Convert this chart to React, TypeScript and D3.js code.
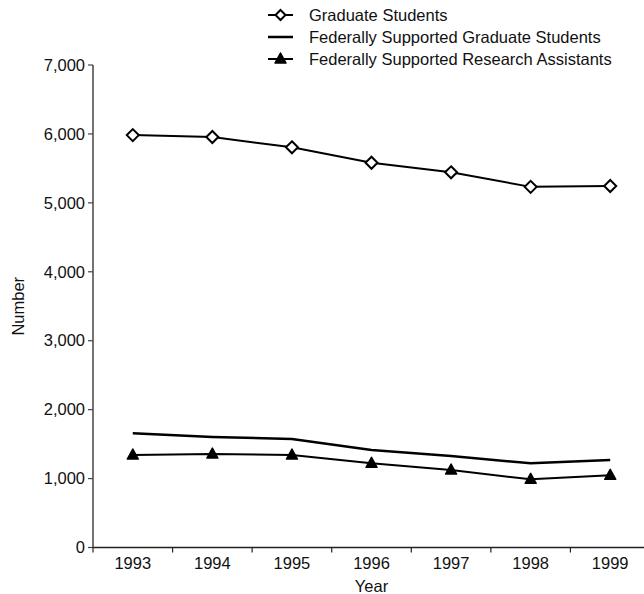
import React from "react";
import * as d3 from "d3";

const years = ["1993", "1994", "1995", "1996", "1997", "1998", "1999"];
const graduateStudents = [5983, 5955, 5806, 5582, 5443, 5232, 5245];
const fedGradStudents = [1657, 1603, 1574, 1414, 1327, 1221, 1269];
const fedResearchAssistants = [1342, 1356, 1342, 1221, 1124, 989, 1047];
const yTicks = [0, 1000, 2000, 3000, 4000, 5000, 6000, 7000];
const legendLabels = [
  "Graduate Students",
  "Federally Supported Graduate Students",
  "Federally Supported Research Assistants",
];

const W = 644;
const H = 594;
const left = 93;
const right = 650;
const top = 65;
const bottom = 547.5;
const font = "'Liberation Sans', Arial, sans-serif";
const fs = 16.5;

export default function App() {
  const x = d3.scaleBand<string>().domain(years).range([left, right]).padding(0);
  const y = d3.scaleLinear().domain([0, 7000]).range([bottom, top]);
  const cx = (yr: string) => (x(yr) as number) + x.bandwidth() / 2;
  const fmt = d3.format(",");

  const line = d3
    .line<number>()
    .x((_, i) => cx(years[i]))
    .y((v) => y(v));

  const diamond = (px: number, py: number, r = 6) =>
    `M${px},${py - r}L${px + r},${py}L${px},${py + r}L${px - r},${py}Z`;
  const triangle = (px: number, py: number) =>
    `M${px},${py - 6}L${px + 5.5},${py + 4}L${px - 5.5},${py + 4}Z`;

  const boundaries = d3.range(years.length + 1).map((i) => left + i * x.bandwidth());

  const legendX = 268;
  const legendRows = [15, 37, 59];

  return (
    <svg
      width={W}
      height={H}
      style={{ position: "absolute", left: 0, top: 0, background: "#fff" }}
      fontFamily={font}
    >
      <rect width={W} height={H} fill="#fff" />
      {/* Y axis */}
      <line x1={left} x2={left} y1={top} y2={bottom} stroke="#444" strokeWidth={1.5} />
      {yTicks.map((t) => (
        <g key={t}>
          <line x1={left - 5} x2={left} y1={y(t)} y2={y(t)} stroke="#444" strokeWidth={1.2} />
          <text x={left - 8} y={y(t)} dy="0.35em" textAnchor="end" fontSize={fs} fill="#111">
            {fmt(t)}
          </text>
        </g>
      ))}
      <text
        transform={`translate(18,${(top + bottom) / 2}) rotate(-90)`}
        textAnchor="middle"
        dy="0.35em"
        fontSize={fs}
        fill="#111"
      >
        Number
      </text>
      {/* X axis */}
      <line x1={left} x2={right} y1={bottom} y2={bottom} stroke="#222" strokeWidth={1.5} />
      {boundaries.map((b, i) => (
        <line key={i} x1={b} x2={b} y1={bottom} y2={bottom + 5} stroke="#222" strokeWidth={1.2} />
      ))}
      {years.map((yr) => (
        <text key={yr} x={cx(yr)} y={bottom + 16} dy="0.35em" textAnchor="middle" fontSize={fs} fill="#111">
          {yr}
        </text>
      ))}
      <text x={(left + right) / 2} y={586} dy="0.35em" textAnchor="middle" fontSize={fs} fill="#111">
        Year
      </text>

      {/* Series */}
      <path d={line(graduateStudents) || ""} fill="none" stroke="#000" strokeWidth={2} />
      <path d={line(fedGradStudents) || ""} fill="none" stroke="#000" strokeWidth={2.5} />
      <path d={line(fedResearchAssistants) || ""} fill="none" stroke="#000" strokeWidth={2} />
      {graduateStudents.map((v, i) => (
        <path key={"g" + i} d={diamond(cx(years[i]), y(v))} fill="#fff" stroke="#000" strokeWidth={2} />
      ))}
      {fedResearchAssistants.map((v, i) => (
        <path key={"r" + i} d={triangle(cx(years[i]), y(v))} fill="#000" stroke="#000" strokeWidth={1.5} strokeLinejoin="round" />
      ))}

      {/* Legend */}
      {legendLabels.map((lab, i) => {
        const ly = legendRows[i];
        return (
          <g key={lab}>
            <line x1={legendX} x2={legendX + 25} y1={ly} y2={ly} stroke="#000" strokeWidth={i === 1 ? 2.5 : 2} />
            {i === 0 && (
              <path d={diamond(legendX + 12.5, ly, 5)} fill="#fff" stroke="#000" strokeWidth={2} />
            )}
            {i === 2 && (
              <path d={triangle(legendX + 12.5, ly)} fill="#000" stroke="#000" strokeWidth={1.5} strokeLinejoin="round" />
            )}
            <text x={309} y={ly} dy="0.35em" fontSize={fs} fill="#111">
              {lab}
            </text>
          </g>
        );
      })}
    </svg>
  );
}
